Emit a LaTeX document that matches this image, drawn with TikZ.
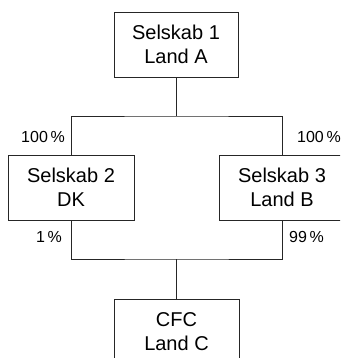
\documentclass[tikz,border=0pt]{standalone}
\usepackage{fontspec}
\setmainfont{Liberation Sans}
\begin{document}
\begin{tikzpicture}[x=1pt,y=1pt,
  company/.style={draw=black!85, line width=0.8pt, minimum height=65pt, inner sep=0pt,
    align=center, font=\fontsize{20}{24}\selectfont},
  link/.style={draw=black!85, line width=0.8pt},
  share/.style={font=\fontsize{16}{19}\selectfont, inner sep=0pt}]
\useasboundingbox (0,0) rectangle (340,-358);
\clip (0,0) rectangle (340,-358);
% companies
\node[company, minimum width=124pt] (s1) at (176,-44.5) {Selskab 1\\Land A};
\node[company, minimum width=126pt] (s2) at (71,-187.5) {Selskab 2\\DK};
\node[company, minimum width=126pt] (s3) at (282,-187.5) {Selskab 3\\Land B};
\node[company, minimum width=125pt] (cfc) at (176.5,-331.5) {CFC\\Land C};
% branch points
\coordinate (up) at (176,-116);
\coordinate (down) at (176.5,-259);
% ownership lines
\draw[link] (s1.south) -- (up);
\draw[link] (s2.north) |- (up) -| (s3.north);
\draw[link] (s2.south) |- (down) -| (s3.south);
\draw[link] (down) -- (cfc.north);
% ownership shares
\node[share, anchor=base east] (p12) at (65,-142.5) {100\,\%};
\node[share, anchor=base west] (p13) at (297,-142.5) {100\,\%};
\node[share, anchor=base east] (p2c) at (62,-242.7) {1\,\%};
\node[share, anchor=base west] (p3c) at (289,-242.7) {99\,\%};
\end{tikzpicture}
\end{document}
